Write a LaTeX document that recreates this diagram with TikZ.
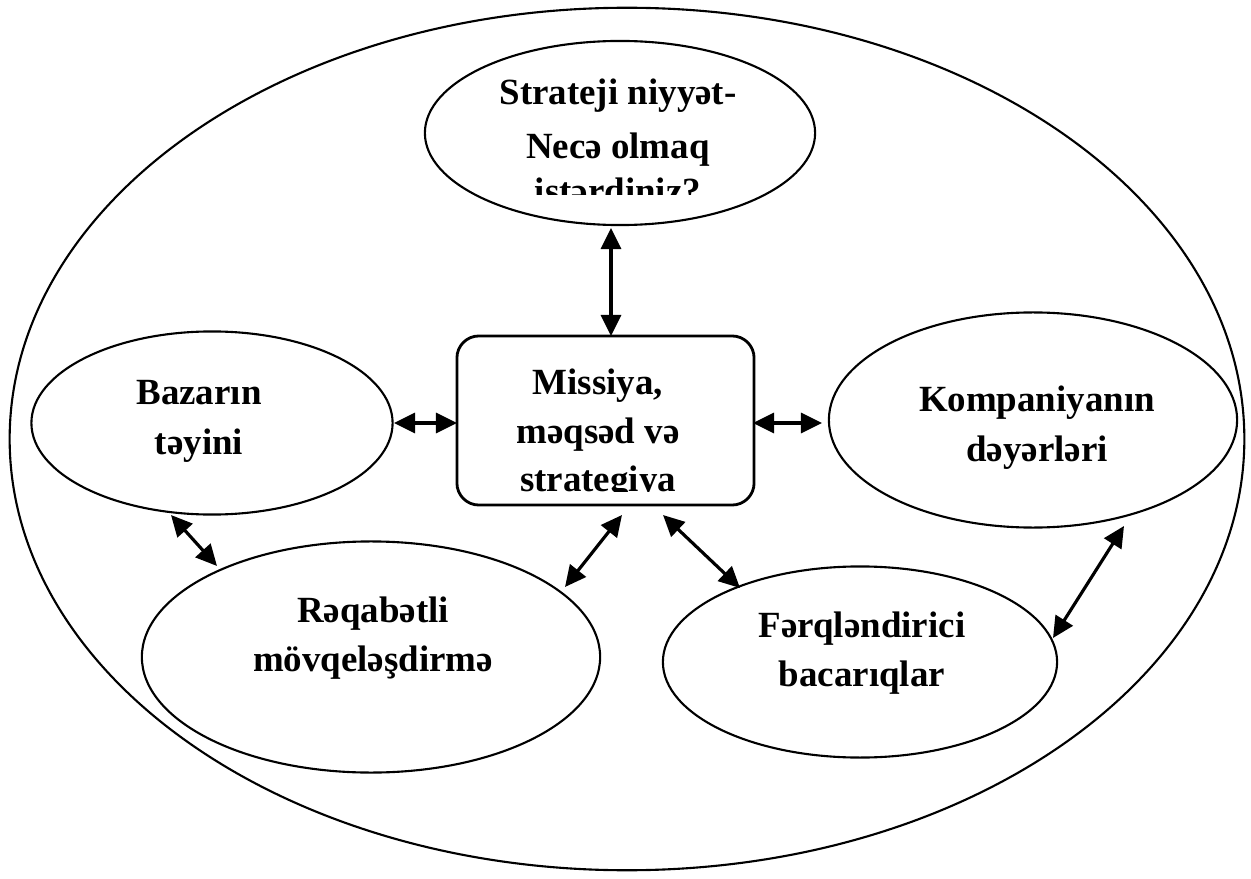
\documentclass[tikz,border=0pt]{standalone}
\usepackage{fontspec}
\setmainfont{Liberation Serif}
\usetikzlibrary{shapes.geometric,arrows.meta}
\setlength{\tabcolsep}{0pt}
\begin{document}
\begin{tikzpicture}[x=0.01cm,y=-0.01cm,
  oval/.style={draw,ellipse,line width=0.6pt,inner sep=0pt},
  panel/.style={draw,rectangle,rounded corners=0.22cm,line width=0.8pt,inner sep=0pt},
  lbl/.style={anchor=base,inner sep=0pt,font=\fontsize{10.5}{#1}\selectfont\bfseries},
  lbl/.default=14pt,
  link/.style={line width=0.9pt,{Triangle[length=6pt,width=5.7pt]}-{Triangle[length=6pt,width=5.7pt]}}]
\useasboundingbox (0,0) rectangle (1251,879);

% frame and shapes
\node[oval,minimum width=12.34cm,minimum height=8.62cm] (outer) at (627,439) {};
\node[oval,minimum width=3.90cm,minimum height=1.84cm] (intent) at (620,133) {};
\node[oval,minimum width=3.61cm,minimum height=1.83cm] (market) at (212,423) {};
\node[oval,minimum width=4.08cm,minimum height=2.15cm] (values) at (1033,420) {};
\node[oval,minimum width=4.58cm,minimum height=2.31cm] (position) at (371,657) {};
\node[oval,minimum width=3.94cm,minimum height=1.91cm] (skills) at (860,662) {};
\node[panel,minimum width=2.97cm,minimum height=1.69cm] (mission) at (605.5,420.5) {};

% labels (the long ones are cut off by their text areas)
\begin{scope}
  \clip (420,50) rectangle (820,195);
  \node[lbl=15.1pt] (intentT) at (618,105) {\begin{tabular}[t]{c}Strateji niyyət-\\Necə olmaq\\[-2.3pt]istərdiniz?\end{tabular}};
\end{scope}
\begin{scope}
  \clip (460,340) rectangle (750,491);
  \node[lbl=13.7pt] (missionT) at (598,395) {\begin{tabular}[t]{c}Missiya,\\məqsəd və\\strategiya\end{tabular}};
\end{scope}
\node[lbl] (marketT) at (199,405) {\begin{tabular}[t]{c}Bazarın\\təyini\end{tabular}};
\node[lbl] (valuesT) at (1037,412) {\begin{tabular}[t]{c}Kompaniyanın\\dəyərləri\end{tabular}};
\node[lbl] (positionT) at (373,622) {\begin{tabular}[t]{c}Rəqabətli\\mövqeləşdirmə\end{tabular}};
\node[lbl] (skillsT) at (862,637) {\begin{tabular}[t]{c}Fərqləndirici\\bacarıqlar\end{tabular}};

% connector ends
\coordinate (a1) at (611,228);  \coordinate (b1) at (611,336);
\coordinate (a2) at (394,423);  \coordinate (b2) at (457,423);
\coordinate (a3) at (753,423);  \coordinate (b3) at (822,423);
\coordinate (a4) at (171,515);  \coordinate (b4) at (217,566);
\coordinate (a5) at (622,515);  \coordinate (b5) at (565,587);
\coordinate (a6) at (663,515);  \coordinate (b6) at (740,588);
\coordinate (a7) at (1124,526); \coordinate (b7) at (1053,638);

% two-way connectors
\foreach \i in {1,...,7} \draw[link] (a\i) -- (b\i);
\end{tikzpicture}
\end{document}
